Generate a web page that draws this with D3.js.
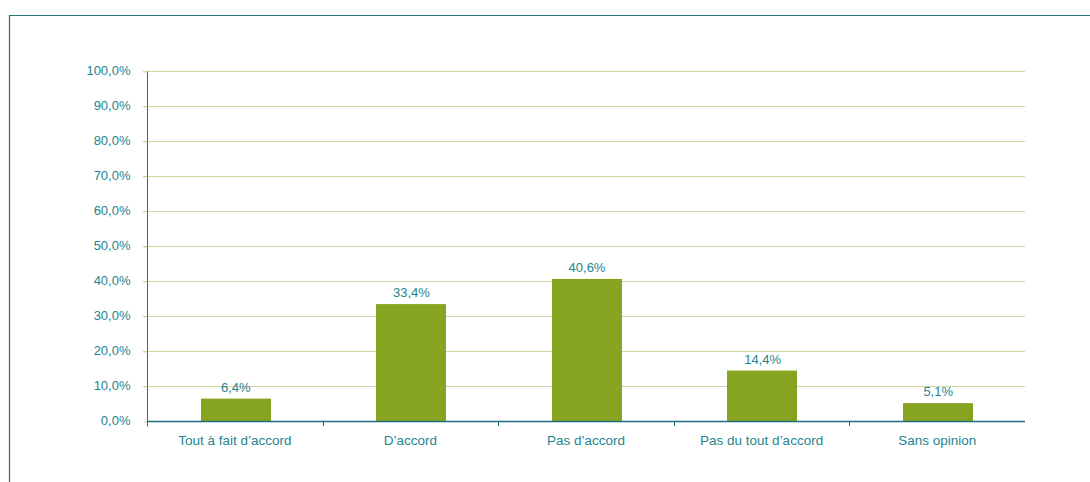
<!DOCTYPE html>
<html>
<head>
<meta charset="utf-8">
<script src="https://cdn.jsdelivr.net/npm/d3@7"></script>
<style>
  html, body { margin: 0; padding: 0; background: #fff; }
  svg { display: block; }
  text { font-family: "Liberation Sans", Arial, Helvetica, sans-serif; }
</style>
</head>
<body>
<svg id="chart" width="1090" height="482"></svg>
<script>
const categories = ["Tout à fait d’accord", "D’accord", "Pas d’accord", "Pas du tout d’accord", "Sans opinion"];
const values = [6.4, 33.4, 40.6, 14.4, 5.1];
const yTicks = [0, 10, 20, 30, 40, 50, 60, 70, 80, 90, 100];

const fmt = v => d3.format(".1f")(v).replace(".", ",") + "%";

const svg = d3.select("#chart");
const W = 1090, H = 482;
const margin = { left: 147, right: 65, top: 71, bottom: 61 };
const x0 = margin.left, x1 = W - margin.right;
const y0 = H - margin.bottom, y1 = margin.top;

const textColor = "#24858f";
const axisColor = "#1f6f7f";
const gridColor = "#cdd79f";
const barColor = "#86a41f";

// outer frame
svg.append("path")
  .attr("d", `M${W + 2},15.5 H9.5 V${H + 2}`)
  .attr("fill", "none")
  .attr("stroke", "#25717f")
  .attr("stroke-width", 1.2);

const x = d3.scaleBand().domain(categories).range([x0, x1]).paddingInner(0.6).paddingOuter(0.3);
const xBand = d3.scaleBand().domain(categories).range([x0, x1]);
const y = d3.scaleLinear().domain([0, 100]).range([y0, y1]);

// horizontal grid
svg.append("g").selectAll("line")
  .data(yTicks.filter(t => t > 0))
  .join("line")
  .attr("x1", x0 - 4).attr("x2", x1)
  .attr("y1", d => Math.round(y(d)) + 0.5).attr("y2", d => Math.round(y(d)) + 0.5)
  .attr("stroke", gridColor).attr("stroke-width", 1.2);

// y axis
const yAxis = d3.axisLeft(y).tickValues(yTicks).tickFormat(fmt).tickSize(4).tickPadding(13);
const gy = svg.append("g").attr("transform", `translate(${x0 + 0.5},0.5)`).call(yAxis);
gy.select(".domain").attr("stroke", axisColor).attr("d", `M0,${y0 + 5}V${y1}`);
gy.selectAll(".tick line").attr("stroke", gridColor);
gy.selectAll(".tick text").attr("fill", textColor).attr("font-size", 13).attr("dy", "0.2em");

// bars
svg.append("g").selectAll("rect")
  .data(values)
  .join("rect")
  .attr("x", (d, i) => Math.round(x(categories[i])) + 1)
  .attr("width", Math.round(x.bandwidth()))
  .attr("y", d => y(d))
  .attr("height", d => y0 - y(d))
  .attr("fill", barColor);

// value labels
svg.append("g").selectAll("text")
  .data(values)
  .join("text")
  .attr("x", (d, i) => x(categories[i]) + x.bandwidth() / 2 + 1)
  .attr("y", d => y(d) - 7)
  .attr("text-anchor", "middle")
  .attr("fill", textColor)
  .attr("font-size", 13)
  .text(fmt);

// x axis
const gx = svg.append("g").attr("transform", `translate(0,${y0 + 0.5})`)
  .call(d3.axisBottom(xBand).tickSize(0).tickPadding(14));
gx.select(".domain").attr("stroke", axisColor).attr("stroke-width", 1.3).attr("d", `M${x0},0H${x1}`);
gx.selectAll(".tick text").attr("fill", textColor).attr("font-size", 13.5);

// separators between categories
svg.append("g").selectAll("line")
  .data(categories.slice(1))
  .join("line")
  .attr("x1", d => Math.round(xBand(d)) + 0.5).attr("x2", d => Math.round(xBand(d)) + 0.5)
  .attr("y1", y0).attr("y2", y0 + 5)
  .attr("stroke", axisColor);
</script>
</body>
</html>
